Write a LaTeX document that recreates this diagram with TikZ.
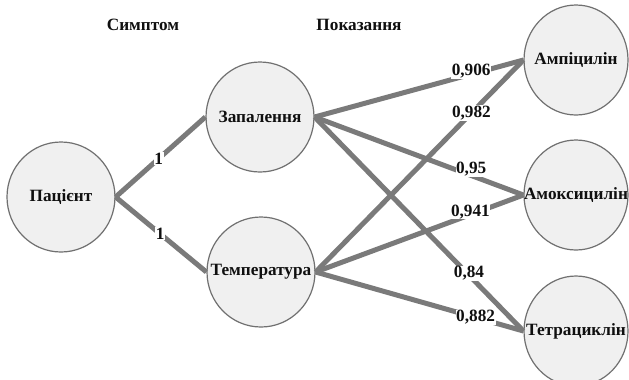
\documentclass[tikz,border=0pt]{standalone}
\usepackage{fontspec}
\setmainfont{Liberation Serif}
\usetikzlibrary{shapes.geometric}
\definecolor{edgegray}{RGB}{122,122,122}
\definecolor{rimgray}{RGB}{112,112,112}
\definecolor{bubblefill}{RGB}{240,240,240}
\definecolor{inkdark}{RGB}{15,15,15}
\newcommand{\bubtext}[1]{\makebox[0pt]{#1}}
\tikzset{
  every node/.style={font=\fontsize{17.3}{19}\selectfont\bfseries, text=inkdark},
  bubble/.style={ellipse, draw=rimgray, line width=1.2bp, fill=bubblefill,
    minimum width=108bp, minimum height=110bp, inner sep=0pt},
  smallbubble/.style={bubble, minimum width=104bp},
  link/.style={draw=edgegray, line width=5bp},
  weight/.style={fill=white, inner sep=0.6bp, outer sep=0pt},
  heading/.style={inner sep=0pt}
}
\begin{document}
\begin{tikzpicture}[x=1bp,y=-1bp]
  \useasboundingbox (0,0) rectangle (629,379);
  \clip (0,0) rectangle (629,379);

  % column headings
  \node[heading] (hsym) at (143,25) {Симптом};
  \node[heading] (hind) at (359,25) {Показання};

  % patient, symptoms, drugs
  \node[bubble] (pat) at (61,197) {\bubtext{Пацієнт}};
  \node[bubble] (inf) at (260,117) {\bubtext{Запалення}};
  \node[bubble] (tem) at (261,272) {\bubtext{Температура}};
  \node[smallbubble] (amp) at (576,60) {\bubtext{Ампіцилін}};
  \node[smallbubble] (amx) at (576,195) {\bubtext{Амоксицилін}};
  \node[smallbubble] (tet) at (576,331) {\bubtext{Тетрациклін}};

  % weighted links
  \draw[link] (pat.east) -- node[weight, pos=0.48] (w1) {1} (inf.west);
  \draw[link] (pat.east) -- node[weight, pos=0.49] (w2) {1} (tem.west);

  \draw[link] (inf.east) -- node[weight, pos=0.75, yshift=3bp] (w3) {0,906} (amp.west);
  \draw[link] (tem.east) -- node[weight, pos=0.75] (w4) {0,982} (amp.west);
  \draw[link] (inf.east) -- node[weight, pos=0.75, yshift=6bp] (w5) {0,95} (amx.west);
  \draw[link] (tem.east) -- node[weight, pos=0.745, yshift=3bp] (w6) {0,941} (amx.west);
  \draw[link] (inf.east) -- node[weight, pos=0.73, xshift=2bp] (w7) {0,84} (tet.west);
  \draw[link] (tem.east) -- node[weight, pos=0.77] (w8) {0,882} (tet.west);
\end{tikzpicture}
\end{document}
